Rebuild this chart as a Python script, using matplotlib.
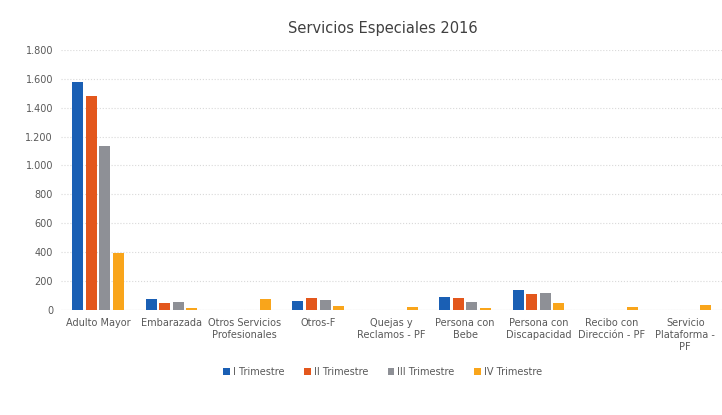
import matplotlib

matplotlib.use("Agg")
import matplotlib.pyplot as plt
import numpy as np
from matplotlib.ticker import FuncFormatter

categories = [
    "Adulto Mayor",
    "Embarazada",
    "Otros Servicios\nProfesionales",
    "Otros-F",
    "Quejas y\nReclamos - PF",
    "Persona con\nBebe",
    "Persona con\nDiscapacidad",
    "Recibo con\nDirección - PF",
    "Servicio\nPlataforma -\nPF",
]
series_names = ["I Trimestre", "II Trimestre", "III Trimestre", "IV Trimestre"]
t1 = [1580, 75, 0, 64, 0, 88, 138, 0, 0]
t2 = [1480, 50, 0, 85, 0, 81, 108, 0, 0]
t3 = [1135, 52, 0, 69, 0, 57, 120, 0, 0]
t4 = [395, 15, 75, 28, 20, 12, 50, 23, 35]
colors = ["#1a5fb4", "#e3571c", "#8e9096", "#f9a51b"]

fig = plt.figure(figsize=(7.22, 4.15), dpi=100)
ax = fig.add_axes([0.085, 0.253, 0.92, 0.627])

x = np.arange(len(categories))
w = 0.15
step = 0.185
for i, (vals, name) in enumerate(zip([t1, t2, t3, t4], series_names)):
    ax.bar(x + (i - 1.5) * step, vals, width=w, color=colors[i], label=name, zorder=3)

ax.set_xlim(-0.5, len(categories) - 0.45)
ax.set_ylim(0, 1800)
ax.set_yticks(np.arange(0, 1801, 200))
ax.yaxis.set_major_formatter(FuncFormatter(lambda v, p: f"{int(v):,}".replace(",", ".")))
ax.grid(axis="y", color="#d9d9d9", ls=":", lw=0.8, zorder=0)
for s in ax.spines.values():
    s.set_visible(False)
ax.axhline(0, color="#d9d9d9", lw=0.8, zorder=2)
ax.tick_params(axis="both", length=0, labelsize=7, colors="#595959", pad=6)
ax.set_xticks(x)
ax.set_xticklabels(categories, fontsize=7, color="#595959")

fig.suptitle("Servicios Especiales 2016", x=0.53, y=0.95, fontsize=10.5, color="#404040")
fig.legend(loc="lower center", bbox_to_anchor=(0.53, 0.07), ncol=4, frameon=False,
           fontsize=7, handlelength=0.7, handleheight=0.7, handletextpad=0.3,
           columnspacing=2.0, labelcolor="#595959")

fig.savefig("out.png", dpi=100)
